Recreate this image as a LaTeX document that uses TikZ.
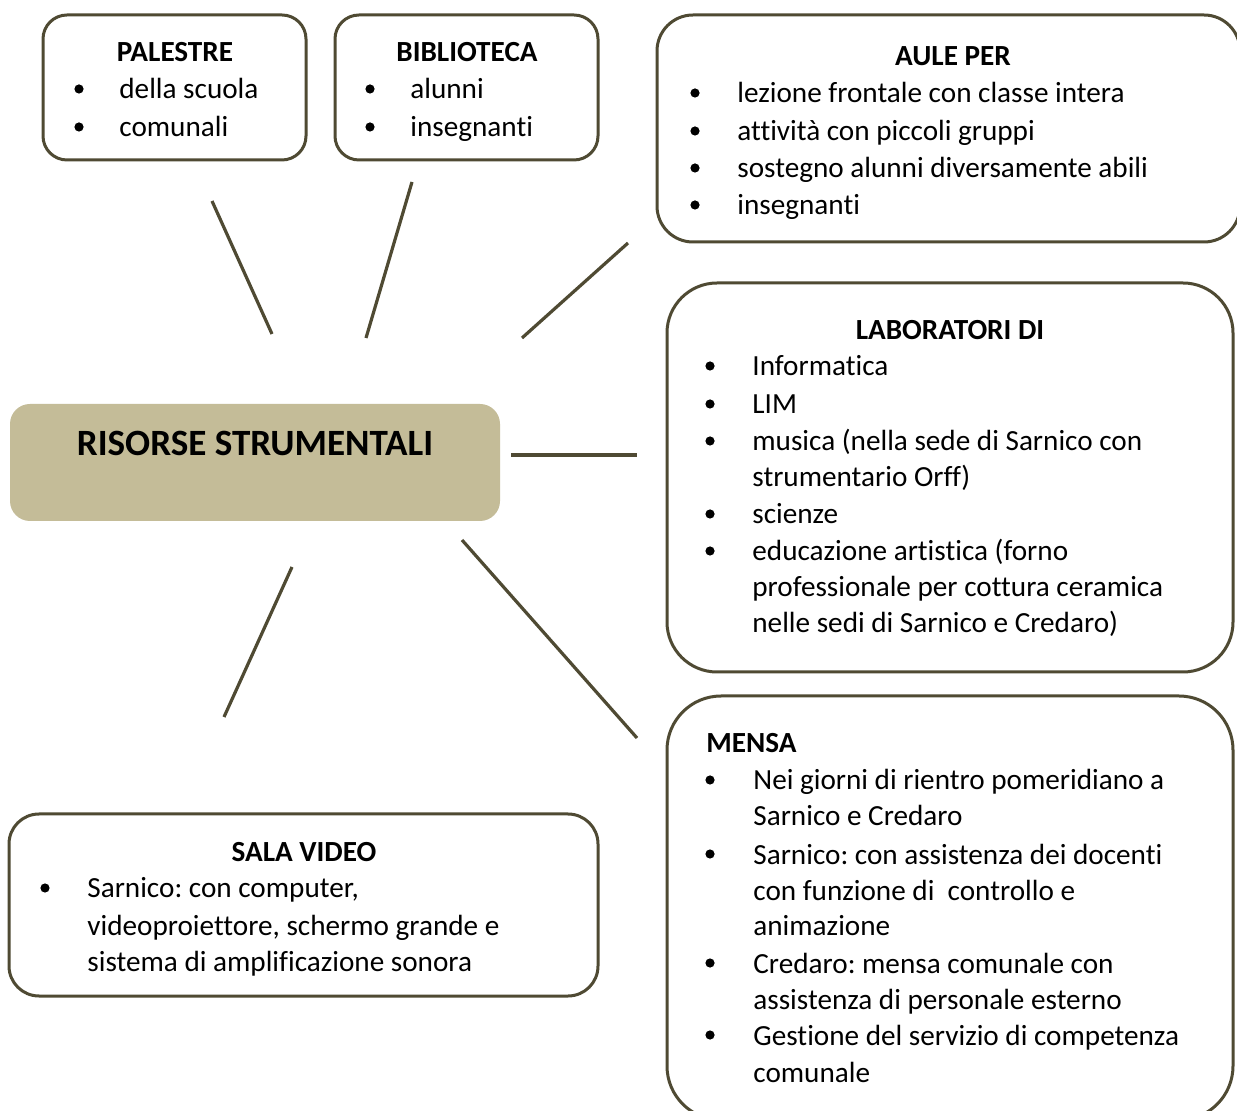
\documentclass[tikz,border=0pt]{standalone}
\usepackage{fontspec}
\setmainfont[Ligatures=NoCommon]{Carlito}
\frenchspacing
\definecolor{edge}{RGB}{79,74,51}
\definecolor{tan}{RGB}{196,188,152}
\begin{document}
\begin{tikzpicture}[x=0.5pt,y=-0.5pt,
  box/.style={draw=edge,line width=1.5pt,fill=white,inner sep=0pt},
  conn/.style={draw=edge,line width=1.6pt},
  txt/.style={anchor=base west,inner sep=0pt,font=\fontsize{14.6}{18.6}\selectfont},
  hd/.style={anchor=base,inner sep=0pt,font=\fontsize{14.6}{18.6}\selectfont\bfseries},
  hdl/.style={anchor=base west,inner sep=0pt,font=\fontsize{14.6}{18.6}\selectfont\bfseries},
  bul/.style={circle,fill=black,inner sep=0pt,minimum size=4.6pt}]
\useasboundingbox (0,0) rectangle (1237,1111);
\fill[white] (0,0) rectangle (1237,1111);
% boxes
\node[box,minimum width=131.5pt,minimum height=72.5pt,rounded corners=12pt] (palestre) at (174.5,87.5) {};
\node[box,minimum width=131.5pt,minimum height=72.5pt,rounded corners=12pt] (biblio) at (466.5,87.5) {};
\node[box,minimum width=291.5pt,minimum height=113.5pt,rounded corners=18pt] (aule) at (948.5,128.5) {};
\node[box,minimum width=283pt,minimum height=194.5pt,rounded corners=25pt] (lab) at (950,477.5) {};
\node[box,minimum width=283pt,minimum height=212pt,rounded corners=27pt] (mensa) at (950,908) {};
\node[box,minimum width=294.5pt,minimum height=91pt,rounded corners=15pt] (sala) at (303.5,905) {};
\node[fill=tan,minimum width=245pt,minimum height=58.5pt,rounded corners=10pt,inner sep=0pt] (central) at (255,462.5) {};
\node[anchor=base,inner sep=0pt,font=\fontsize{18.55}{22}\selectfont\bfseries] (title) at (255,456) {RISORSE STRUMENTALI};
% connectors
\coordinate (c1a) at (212,201); \coordinate (c1b) at (272,334);
\coordinate (c2a) at (412,182); \coordinate (c2b) at (366,338);
\coordinate (c3a) at (628,243); \coordinate (c3b) at (522,338);
\coordinate (c4a) at (511,455); \coordinate (c4b) at (637,455);
\coordinate (c5a) at (462,540); \coordinate (c5b) at (637,738);
\coordinate (c6a) at (292,567); \coordinate (c6b) at (224,717);
\draw[conn] (c1a) -- (c1b);
\draw[conn] (c2a) -- (c2b);
\draw[conn] (c3a) -- (c3b);
\draw[conn] (c4a) -- (c4b);
\draw[conn] (c5a) -- (c5b);
\draw[conn] (c6a) -- (c6b);
% PALESTRE
\node[hd] (palh) at (175,62) {PALESTRE};
\node[bul] (palb1) at (79,89) {}; \node[txt] (palt1) at (119,99) {della scuola};
\node[bul] (palb2) at (79,127) {}; \node[txt] (palt2) at (119,137) {comunali};
% BIBLIOTECA
\node[hd] (bibh) at (467,62) {BIBLIOTECA};
\node[bul] (bibb1) at (370,89) {}; \node[txt] (bibt1) at (410,99) {alunni};
\node[bul] (bibb2) at (370,127) {}; \node[txt] (bibt2) at (410,137) {insegnanti};
% AULE PER
\node[hd] (auleh) at (953,66) {AULE PER};
\node[bul] (auleb1) at (695,93) {}; \node[txt] (aulet1) at (737,103) {lezione frontale con classe intera};
\node[bul] (auleb2) at (695,131) {}; \node[txt] (aulet2) at (737,141) {attività con piccoli gruppi};
\node[bul] (auleb3) at (695,168) {}; \node[txt] (aulet3) at (737,178) {sostegno alunni diversamente abili};
\node[bul] (auleb4) at (695,205) {}; \node[txt] (aulet4) at (737,215) {insegnanti};
% LABORATORI DI
\node[hd] (labh) at (950,340) {LABORATORI DI};
\node[bul] (labb1) at (710,366) {}; \node[txt] (labt1) at (752,376) {Informatica};
\node[bul] (labb2) at (710,404) {}; \node[txt] (labt2) at (752,414) {LIM};
\node[bul] (labb3) at (710,441) {}; \node[txt] (labt3) at (752,451) {musica (nella sede di Sarnico con};
\node[txt] (labt3b) at (752,487) {strumentario Orff)};
\node[bul] (labb4) at (710,514) {}; \node[txt] (labt4) at (752,524) {scienze};
\node[bul] (labb5) at (710,551) {}; \node[txt] (labt5) at (752,561) {educazione artistica (forno};
\node[txt] (labt5b) at (752,597) {professionale per cottura ceramica};
\node[txt] (labt5c) at (752,633) {nelle sedi di Sarnico e Credaro)};
% MENSA
\node[hdl] (mensah) at (706,753) {MENSA};
\node[bul] (menb1) at (710,780) {}; \node[txt] (ment1) at (753,790) {Nei giorni di rientro pomeridiano a};
\node[txt] (ment1b) at (753,826) {Sarnico e Credaro};
\node[bul] (menb2) at (710,854) {}; \node[txt] (ment2) at (753,864) {Sarnico: con assistenza dei docenti};
\node[txt] (ment2b) at (753,900) {con funzione di\ \ controllo e};
\node[txt] (ment2c) at (753,935) {animazione};
\node[bul] (menb3) at (710,963) {}; \node[txt] (ment3) at (753,973) {Credaro: mensa comunale con};
\node[txt] (ment3b) at (753,1009) {assistenza di personale esterno};
\node[bul] (menb4) at (710,1035) {}; \node[txt] (ment4) at (753,1045) {Gestione del servizio di competenza};
\node[txt] (ment4b) at (753,1082) {comunale};
% SALA VIDEO
\node[hd] (salah) at (304,862) {SALA VIDEO};
\node[bul] (salab1) at (45,888) {}; \node[txt] (salat1) at (87,898) {Sarnico: con computer,};
\node[txt] (salat1b) at (87,935) {videoproiettore, schermo grande e};
\node[txt] (salat1c) at (87,971) {sistema di amplificazione sonora};
\end{tikzpicture}
\end{document}
